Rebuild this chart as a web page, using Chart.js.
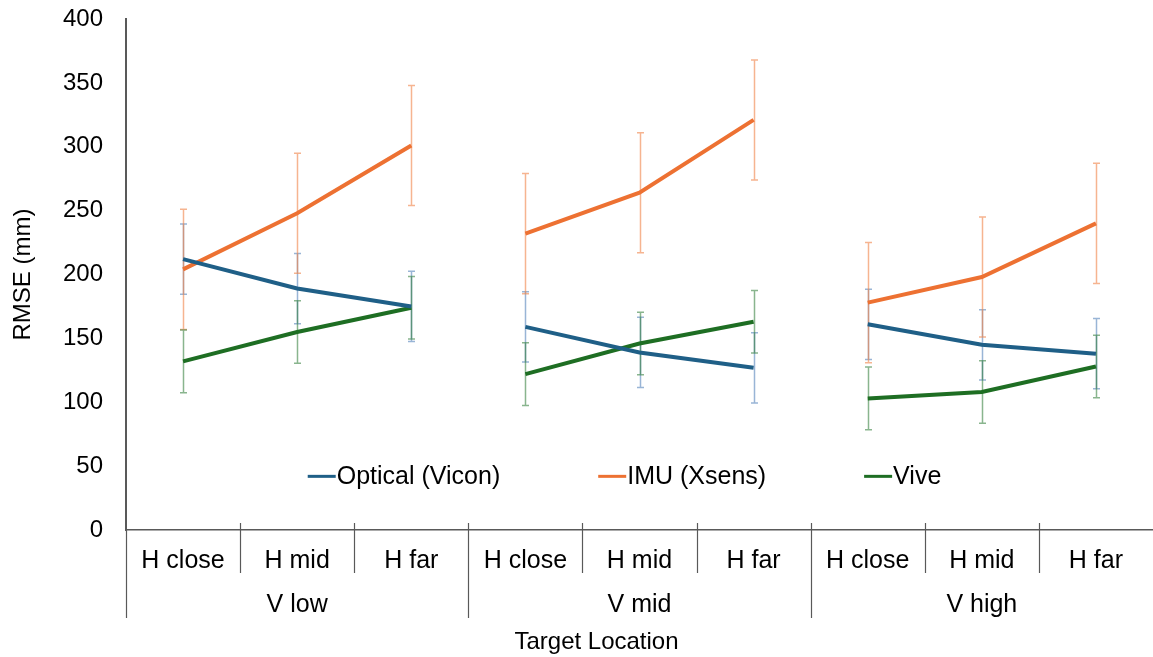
<!DOCTYPE html>
<html>
<head>
<meta charset="utf-8">
<script src="https://cdn.jsdelivr.net/npm/chart.js@4/dist/chart.umd.min.js"></script>
<style>
  html, body { margin: 0; padding: 0; background: #fff; }
  #wrap { width: 1153px; height: 657px; }
</style>
</head>
<body>
<div id="wrap"><canvas id="c" width="1153" height="657"></canvas></div>
<script>
// Target locations: horizontal position within each vertical level
const hLabels = ['H close', 'H mid', 'H far', 'H close', 'H mid', 'H far', 'H close', 'H mid', 'H far'];
const vGroups = ['V low', 'V mid', 'V high'];
const xTitle = 'Target Location';
const yTitle = 'RMSE (mm)';
const yTicks = [0, 50, 100, 150, 200, 250, 300, 350, 400];

// RMSE per system (mm) and standard deviation shown as error bars
const opticalMean = [212, 189, 175, 159, 139, 127, 161, 145, 138];
const opticalErr  = [27.5, 27.5, 27.5, 27.5, 27.5, 27.5, 27.5, 27.5, 27.5];
const imuMean     = [204, 248, 301, 232, 264, 321, 178, 198, 240];
const imuErr      = [47, 47, 47, 47, 47, 47, 47, 47, 47];
const viveMean    = [132, 155, 174, 122, 146, 163, 103, 108, 128];
const viveErr     = [24.5, 24.5, 24.5, 24.5, 24.5, 24.5, 24.5, 24.5, 24.5];

const FONT = '"Liberation Sans", Arial, sans-serif';
const AXIS_COLOR = '#595959';

function series(label, data, errors, color, errorColor) {
  return {
    label, data, errors, errorColor,
    borderColor: color,
    backgroundColor: color,
    borderWidth: 4,
    pointRadius: 0,
    pointHoverRadius: 0,
    tension: 0,
    fill: false,
    // no connecting segment between the last point of one level and the first of the next
    segment: {
      borderColor: ctx => (ctx.p0DataIndex % 3 === 2 ? 'rgba(0,0,0,0)' : undefined)
    }
  };
}

// vertical error bars with small caps, drawn beneath the lines
const errorBars = {
  id: 'errorBars',
  beforeDatasetsDraw(chart) {
    const { ctx, scales: { x, y } } = chart;
    ctx.save();
    ctx.lineWidth = 1.5;
    chart.data.datasets.forEach(ds => {
      ctx.strokeStyle = ds.errorColor;
      ds.data.forEach((v, i) => {
        const px = Math.round(x.getPixelForValue(i)) + 0.5;
        const top = y.getPixelForValue(v + ds.errors[i]);
        const bot = y.getPixelForValue(v - ds.errors[i]);
        ctx.beginPath();
        ctx.moveTo(px, top); ctx.lineTo(px, bot);
        ctx.moveTo(px - 3.5, top); ctx.lineTo(px + 3.5, top);
        ctx.moveTo(px - 3.5, bot); ctx.lineTo(px + 3.5, bot);
        ctx.stroke();
      });
    });
    ctx.restore();
  }
};

// two-level category axis: H labels with dividers, grouped V labels, axis title
const groupedAxis = {
  id: 'groupedAxis',
  afterDraw(chart) {
    const { ctx, chartArea: a, scales: { x } } = chart;
    const n = hLabels.length;
    const half = (x.getPixelForValue(1) - x.getPixelForValue(0)) / 2;
    const base = a.bottom;
    ctx.save();
    ctx.strokeStyle = AXIS_COLOR;
    ctx.lineWidth = 1.2;
    for (let i = 0; i < n; i++) {
      const bx = Math.round(x.getPixelForValue(i) - half) + 0.5;
      const major = i % 3 === 0;
      ctx.beginPath();
      ctx.moveTo(bx, i === 0 ? base : base - 7);
      ctx.lineTo(bx, major ? base + 88 : base + 43);
      ctx.stroke();
    }
    ctx.fillStyle = '#000';
    ctx.textAlign = 'center';
    ctx.textBaseline = 'middle';
    ctx.font = '25px ' + FONT;
    hLabels.forEach((t, i) => ctx.fillText(t, x.getPixelForValue(i), base + 31));
    vGroups.forEach((t, g) => ctx.fillText(t, x.getPixelForValue(g * 3 + 1), base + 75));
    ctx.font = '24px ' + FONT;
    ctx.fillText(xTitle, (a.left + a.right) / 2 - 43, base + 112);
    ctx.restore();
  }
};

// legend row placed inside the plot area
const innerLegend = {
  id: 'innerLegend',
  afterDraw(chart) {
    const { ctx, chartArea: a, scales: { y } } = chart;
    const ly = y.getPixelForValue(42);
    ctx.save();
    ctx.font = '25px ' + FONT;
    ctx.textBaseline = 'middle';
    ctx.textAlign = 'left';
    const sample = 28, gapText = 1, gapItem = 98;
    const items = chart.data.datasets.map(ds => ({ ds, w: sample + gapText + ctx.measureText(ds.label).width }));
    const total = items.reduce((s, it) => s + it.w, 0) + gapItem * (items.length - 1);
    let cx = a.left + (a.right - a.left) * 0.4854 - total / 2;
    items.forEach(({ ds, w }) => {
      ctx.strokeStyle = ds.borderColor;
      ctx.lineWidth = 3;
      ctx.beginPath();
      ctx.moveTo(cx, ly); ctx.lineTo(cx + sample, ly);
      ctx.stroke();
      ctx.fillStyle = '#000';
      ctx.fillText(ds.label, cx + sample + gapText, ly + 1);
      cx += w + gapItem;
    });
    ctx.restore();
  }
};

new Chart(document.getElementById('c'), {
  type: 'line',
  data: {
    labels: hLabels,
    datasets: [
      series('Optical (Vicon)', opticalMean, opticalErr, '#1F5F87', 'rgba(70,120,180,0.55)'),
      series('IMU (Xsens)', imuMean, imuErr, '#ED7132', 'rgba(240,130,70,0.6)'),
      series('Vive', viveMean, viveErr, '#1E6E23', 'rgba(40,120,50,0.55)')
    ]
  },
  options: {
    responsive: false,
    animation: false,
    devicePixelRatio: 1,
    layout: { padding: { top: 19, right: 0, left: 0, bottom: 0 } },
    plugins: { legend: { display: false }, tooltip: { enabled: false } },
    scales: {
      x: {
        type: 'category',
        offset: true,
        grid: { display: false, drawTicks: false },
        border: { display: true, color: AXIS_COLOR, width: 1.5 },
        ticks: { display: false },
        afterFit: s => { s.height = 127; s.paddingLeft = 0; s.paddingRight = 0; }
      },
      y: {
        min: 0,
        max: 400,
        afterBuildTicks: s => { s.ticks = yTicks.map(v => ({ value: v })); },
        grid: { display: false, drawTicks: false },
        border: { display: true, color: AXIS_COLOR, width: 2 },
        ticks: { padding: 23, color: '#000', font: { family: FONT, size: 24 } },
        title: {
          display: true,
          text: yTitle,
          color: '#000',
          font: { family: FONT, size: 24 },
          padding: { top: 9, bottom: 0 }
        },
        afterFit: s => { s.width = 126; s.paddingTop = 0; s.paddingBottom = 0; }
      }
    }
  },
  plugins: [errorBars, groupedAxis, innerLegend]
});
</script>
</body>
</html>
